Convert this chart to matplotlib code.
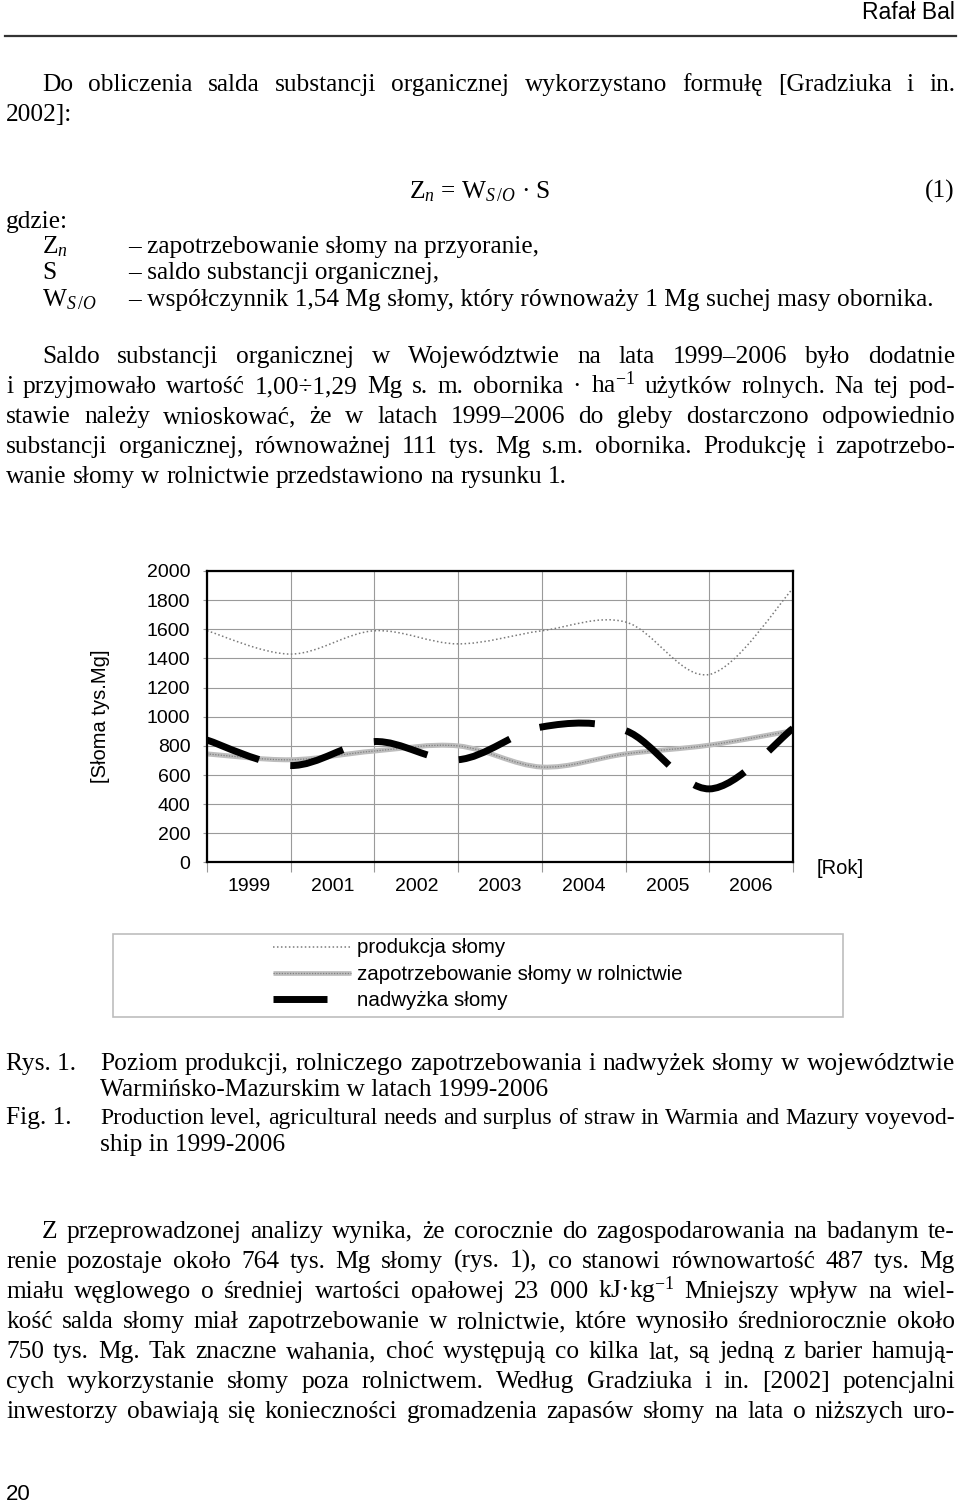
import matplotlib
matplotlib.use("Agg")
import numpy as np
import matplotlib.pyplot as plt
from matplotlib.path import Path
from matplotlib.patches import PathPatch, Rectangle
from matplotlib.lines import Line2D

# ---------------- data ----------------
data_years = ['1999', '2000', '2001', '2002', '2003', '2004', '2005', '2006']
tick_labels = ['1999', '2001', '2002', '2003', '2004', '2005', '2006']
produkcja = [1590, 1430, 1590, 1500, 1590, 1650, 1290, 1880]
zapotrzebowanie = [745, 705, 765, 800, 655, 745, 805, 905]
nadwyzka = [840, 665, 830, 705, 930, 905, 505, 920]
y_ticks = [0, 200, 400, 600, 800, 1000, 1200, 1400, 1600, 1800, 2000]
legend_labels = ['produkcja słomy', 'zapotrzebowanie słomy w rolnictwie', 'nadwyżka słomy']

W, H = 960, 1504
plt.rcParams['mathtext.fontset'] = 'custom'
plt.rcParams['mathtext.rm'] = 'Liberation Serif'
plt.rcParams['mathtext.it'] = 'Liberation Serif:italic'
plt.rcParams['mathtext.bf'] = 'Liberation Serif:bold'

SERIF = ['Liberation Serif', 'DejaVu Serif']
SANS = ['Liberation Sans', 'DejaVu Sans']
FS = 18.3

fig = plt.figure(figsize=(W / 100, H / 100), dpi=100)
fig.patch.set_facecolor('white')
renderer = fig.canvas.get_renderer()


def fx(x):
    return x / W


def fy(y):
    return 1 - y / H


def txt(x, y, s, **kw):
    kw.setdefault('family', SERIF)
    kw.setdefault('fontsize', FS)
    kw.setdefault('va', 'baseline')
    return fig.text(fx(x), fy(y), s, **kw)


def line(words_str, x0, x1, yb, justify=True, **kw):
    words = words_str.split(' ')
    kw.setdefault('family', SERIF)
    size = kw.pop('fontsize', FS)
    while True:
        texts = [fig.text(0, 0, w, va='baseline', ha='left', fontsize=size, **kw) for w in words]
        widths = [t.get_window_extent(renderer).width for t in texts]
        probe1 = fig.text(0, 0, 'a a', fontsize=size, **kw)
        probe2 = fig.text(0, 0, 'aa', fontsize=size, **kw)
        sp = probe1.get_window_extent(renderer).width - probe2.get_window_extent(renderer).width
        probe1.remove()
        probe2.remove()
        n = len(words)
        if justify and n > 1 and sum(widths) + (n - 1) * sp * 0.9 > (x1 - x0) and size > 10:
            for t in texts:
                t.remove()
            size -= 0.2
            continue
        break
    if justify and n > 1:
        gap = (x1 - x0 - sum(widths)) / (n - 1)
    else:
        gap = sp
    x = x0
    for t, w in zip(texts, widths):
        t.set_position((fx(x), fy(yb)))
        x += w + gap


# ---------------- header ----------------
txt(955, 19, 'Rafał Bal', family=SANS, fontsize=16.5, ha='right')
fig.add_artist(Line2D([fx(5), fx(956)], [fy(36), fy(36)], color='#333333', lw=1.6))

L, R = 6, 955
# paragraph 1
line('Do obliczenia salda substancji organicznej wykorzystano formułę [Gradziuka i in.', 42, R, 91)
line('2002]:', L, R, 121, justify=False)
txt(480, 198, r'Z$_{n}$ = W$_{S\,/O}$ · S', ha='center')
txt(R, 198, '(1)', ha='right')
txt(L, 228, 'gdzie:')
txt(42, 253, r'Z$_{n}$')
txt(128, 253, '– zapotrzebowanie słomy na przyoranie,')
txt(42, 279, 'S')
txt(128, 279, '– saldo substancji organicznej,')
txt(42, 306, r'W$_{S\,/O}$')
txt(128, 306, '– współczynnik 1,54 Mg słomy, który równoważy 1 Mg suchej masy obornika.')

# paragraph 2
line('Saldo substancji organicznej w Województwie na lata 1999–2006 było dodatnie', 42, R, 363)
line(r'i przyjmowało wartość 1,00÷1,29 Mg s. m. obornika · ha$^{-1}$ użytków rolnych. Na tej pod-', L, R, 393)
line('stawie należy wnioskować, że w latach 1999–2006 do gleby dostarczono odpowiednio', L, R, 423)
line('substancji organicznej, równoważnej 111 tys. Mg s.m. obornika. Produkcję i zapotrzebo-', L, R, 453)
line('wanie słomy w rolnictwie przedstawiono na rysunku 1.', L, R, 483, justify=False)

# ---------------- chart ----------------
ax_l, ax_r, ax_t, ax_b = 207, 793, 571, 862.5
ax = fig.add_axes([fx(ax_l), fy(ax_b), (ax_r - ax_l) / W, (ax_b - ax_t) / H])
ax.set_xlim(0, len(data_years) - 1)
ax.set_ylim(0, 2000)
ax.set_yticks(y_ticks)
ax.set_yticklabels([str(v) for v in y_ticks], family=SANS, fontsize=14)
ax.set_xticks(np.arange(len(data_years)))
ax.set_xticklabels([])
ax.set_xticks(np.arange(len(tick_labels)) + 0.5, minor=True)
ax.set_xticklabels(tick_labels, minor=True, family=SANS, fontsize=14)
ax.tick_params(axis='x', which='minor', length=0, pad=11)
ax.tick_params(axis='x', which='major', length=7, color='#999999', width=0.8, direction='out')
ax.tick_params(axis='y', which='major', length=3, color='#999999', width=0.8, pad=9)
ax.grid(True, which='major', color='#9a9a9a', lw=0.8)
ax.set_axisbelow(True)
for s in ax.spines.values():
    s.set_linewidth(1.6)
    s.set_color('black')


def smooth_path(xs, ys):
    n = len(xs)
    verts = [(xs[0], ys[0])]
    codes = [Path.MOVETO]
    for i in range(n - 1):
        p0 = (xs[max(i - 1, 0)], ys[max(i - 1, 0)])
        p1 = (xs[i], ys[i])
        p2 = (xs[i + 1], ys[i + 1])
        p3 = (xs[min(i + 2, n - 1)], ys[min(i + 2, n - 1)])
        c1 = (p1[0] + (p2[0] - p0[0]) / 6, p1[1] + (p2[1] - p0[1]) / 6)
        c2 = (p2[0] - (p3[0] - p1[0]) / 6, p2[1] - (p3[1] - p1[1]) / 6)
        verts += [c1, c2, p2]
        codes += [Path.CURVE4] * 3
    return Path(verts, codes)


xs = np.arange(len(data_years))
p_prod = smooth_path(xs, produkcja)
p_dem = smooth_path(xs, zapotrzebowanie)
p_sur = smooth_path(xs, nadwyzka)

ax.add_patch(PathPatch(p_prod, fill=False, edgecolor='#7a7a7a', lw=1.1, linestyle=(0, (1, 1.6))))
ax.add_patch(PathPatch(p_dem, fill=False, edgecolor='#bdbdbd', lw=3.6, capstyle='butt'))
ax.add_patch(PathPatch(p_dem, fill=False, edgecolor='#808080', lw=0.9, linestyle=(0, (1, 1.2))))
ax.add_patch(PathPatch(p_sur, fill=False, edgecolor='black', lw=5.0, linestyle=(0, (8, 4.6)),
                       capstyle='butt', joinstyle='round'))

txt(100, 716, '[Słoma tys.Mg]', family=SANS, fontsize=14.5, rotation=90, ha='center', va='center')
txt(840, 868, '[Rok]', family=SANS, fontsize=14.5, ha='center', va='center')

# legend
fig.add_artist(Rectangle((fx(113), fy(1017)), (843 - 113) / W, (1017 - 934) / H,
                         transform=fig.transFigure, fill=False, edgecolor='#bdbdbd', lw=1.2))
fig.add_artist(Line2D([fx(273), fx(351)], [fy(947), fy(947)], color='#7a7a7a', lw=1.1,
                      linestyle=(0, (1, 1.6))))
fig.add_artist(Line2D([fx(273), fx(351)], [fy(973), fy(973)], color='#bdbdbd', lw=3.4,
                      solid_capstyle='butt'))
fig.add_artist(Line2D([fx(273), fx(351)], [fy(973), fy(973)], color='#808080', lw=0.9,
                      linestyle=(0, (1, 1.2))))
fig.add_artist(Line2D([fx(273), fx(327)], [fy(999), fy(999)], color='black', lw=5.0,
                      solid_capstyle='butt'))
for yy, lab in zip([947, 974, 1001], legend_labels):
    txt(357, yy, lab, family=SANS, fontsize=14.8, va='center')

# caption
txt(L, 1070, 'Rys. 1.')
line('Poziom produkcji, rolniczego zapotrzebowania i nadwyżek słomy w województwie', 100, R, 1070)
txt(100, 1096, 'Warmińsko-Mazurskim w latach 1999-2006')
txt(L, 1124, 'Fig. 1.')
line('Production level, agricultural needs and surplus of straw in Warmia and Mazury voyevod-', 100, R, 1124)
txt(100, 1151, 'ship in 1999-2006')

# paragraph 3
line('Z przeprowadzonej analizy wynika, że corocznie do zagospodarowania na badanym te-', 42, R, 1238)
line('renie pozostaje około 764 tys. Mg słomy (rys. 1), co stanowi równowartość 487 tys. Mg', L, R, 1268)
line(r'miału węglowego o średniej wartości opałowej 23 000 kJ·kg$^{-1}$ Mniejszy wpływ na wiel-', L, R, 1298)
line('kość salda słomy miał zapotrzebowanie w rolnictwie, które wynosiło średniorocznie około', L, R, 1328)
line('750 tys. Mg. Tak znaczne wahania, choć występują co kilka lat, są jedną z barier hamują-', L, R, 1358)
line('cych wykorzystanie słomy poza rolnictwem. Według Gradziuka i in. [2002] potencjalni', L, R, 1388)
line('inwestorzy obawiają się konieczności gromadzenia zapasów słomy na lata o niższych uro-', L, R, 1418)

txt(L, 1500, '20', family=SANS, fontsize=16)

fig.savefig('out.png', dpi=100, facecolor='white')
